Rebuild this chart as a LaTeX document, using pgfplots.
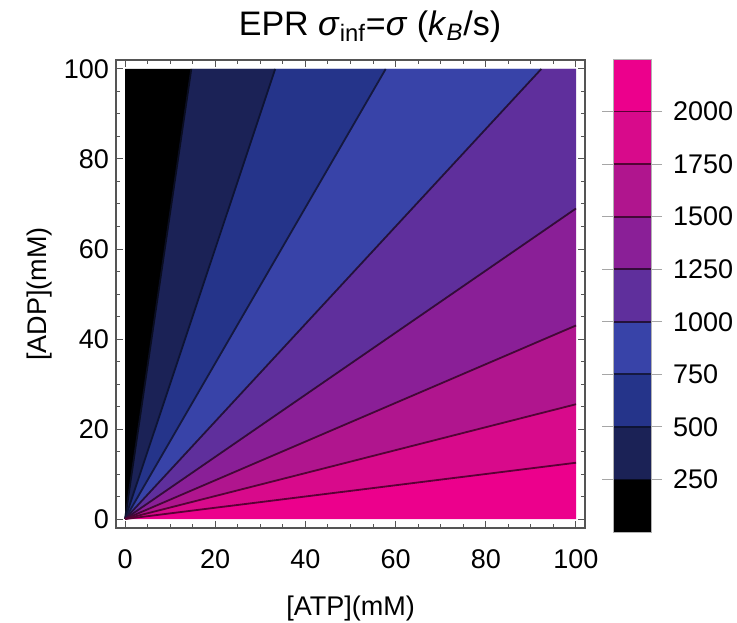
\documentclass[border=0pt]{standalone}
\usepackage{fontspec}
\setmainfont{Liberation Sans}
\usepackage{pgfplots}
\pgfplotsset{compat=1.18}

% band colours, lowest to highest EPR
\definecolor{c0}{HTML}{000000}
\definecolor{c1}{HTML}{1B2256}
\definecolor{c2}{HTML}{25348A}
\definecolor{c3}{HTML}{3843A8}
\definecolor{c4}{HTML}{5F2F9C}
\definecolor{c5}{HTML}{8A1F97}
\definecolor{c6}{HTML}{B0158E}
\definecolor{c7}{HTML}{D80A8B}
\definecolor{c8}{HTML}{EC008C}
\definecolor{framegray}{HTML}{555555}

\pgfplotsset{
 band/.style={fill=#1,draw=#1,line width=0.2bp},
 cline/.style={draw=#1!38!black,line width=0.9bp},
}

\begin{document}
\begin{tikzpicture}
% page = 737x623 px at 0.5bp per px, frame corner at px (116,528)
\path[use as bounding box] (-58bp,-47.5bp) rectangle (310.5bp,264bp);
\begin{axis}[at={(0,0)},anchor=south west,
 width=234.5bp,height=234bp,scale only axis,
 xmin=-2,xmax=102,ymin=-2,ymax=102,
 axis on top,
 xtick={0,20,...,100},ytick={0,20,...,100},minor tick num=3,
 major tick length=3.5bp,minor tick length=2bp,
 axis line style={framegray,line width=0.6bp},
 tick style={framegray,line width=0.5bp},
 /pgf/number format/assume math mode=true,
 ticklabel style={font=\fontsize{13.5bp}{16bp}\selectfont},
 xticklabel style={yshift=-7.5bp},
 label style={font=\fontsize{13.5bp}{16bp}\selectfont},
 xlabel={[ATP](mM)},ylabel={[ADP](mM)},
 xlabel style={yshift=-6.5bp},ylabel style={yshift=-1bp},
]
% filled contour bands (boundaries are rays from the origin)
\addplot[band=c0] coordinates {(0,0) (0,100) (14.7,100)};
\addplot[band=c1] coordinates {(0,0) (14.7,100) (33.3,100)};
\addplot[band=c2] coordinates {(0,0) (33.3,100) (57.8,100)};
\addplot[band=c3] coordinates {(0,0) (57.8,100) (92.3,100)};
\addplot[band=c4] coordinates {(0,0) (92.3,100) (100,100) (100,69)};
\addplot[band=c5] coordinates {(0,0) (100,69) (100,43)};
\addplot[band=c6] coordinates {(0,0) (100,43) (100,25.5)};
\addplot[band=c7] coordinates {(0,0) (100,25.5) (100,12.5)};
\addplot[band=c8] coordinates {(0,0) (100,12.5) (100,0)};
% contour lines
\addplot[cline=c1] coordinates {(0,0) (14.7,100)};
\addplot[cline=c2] coordinates {(0,0) (33.3,100)};
\addplot[cline=c3] coordinates {(0,0) (57.8,100)};
\addplot[cline=c4] coordinates {(0,0) (92.3,100)};
\addplot[cline=c5] coordinates {(0,0) (100,69)};
\addplot[cline=c6] coordinates {(0,0) (100,43)};
\addplot[cline=c7] coordinates {(0,0) (100,25.5)};
\addplot[cline=c8] coordinates {(0,0) (100,12.5)};
\end{axis}

% colour bar
\begin{axis}[at={(248.5bp,-2bp)},anchor=south west,
 width=19bp,height=236.5bp,scale only axis,
 xmin=0,xmax=1,ymin=0,ymax=2250,
 axis on top,
 xtick=\empty,ytick={250,500,...,2000},
 yticklabel pos=right,tick align=outside,
 major tick length=5.5bp,
 axis line style={black!30,line width=0.4bp},
 tick style={black!35,line width=0.5bp},
 /pgf/number format/assume math mode=true,
 /pgf/number format/1000 sep={},
 yticklabel style={font=\fontsize{13.5bp}{16bp}\selectfont,anchor=west,xshift=2bp},
]
\addplot[band=c0] coordinates {(0,0) (1,0) (1,250) (0,250)};
\addplot[band=c1] coordinates {(0,250) (1,250) (1,500) (0,500)};
\addplot[band=c2] coordinates {(0,500) (1,500) (1,750) (0,750)};
\addplot[band=c3] coordinates {(0,750) (1,750) (1,1000) (0,1000)};
\addplot[band=c4] coordinates {(0,1000) (1,1000) (1,1250) (0,1250)};
\addplot[band=c5] coordinates {(0,1250) (1,1250) (1,1500) (0,1500)};
\addplot[band=c6] coordinates {(0,1500) (1,1500) (1,1750) (0,1750)};
\addplot[band=c7] coordinates {(0,1750) (1,1750) (1,2000) (0,2000)};
\addplot[band=c8] coordinates {(0,2000) (1,2000) (1,2250) (0,2250)};
\addplot[cline=c1] coordinates {(0,250) (1,250)};
\addplot[cline=c2] coordinates {(0,500) (1,500)};
\addplot[cline=c3] coordinates {(0,750) (1,750)};
\addplot[cline=c4] coordinates {(0,1000) (1,1000)};
\addplot[cline=c5] coordinates {(0,1250) (1,1250)};
\addplot[cline=c6] coordinates {(0,1500) (1,1500)};
\addplot[cline=c7] coordinates {(0,1750) (1,1750)};
\addplot[cline=c8] coordinates {(0,2000) (1,2000)};
\end{axis}

\node[font=\fontsize{17bp}{20bp}\selectfont] at (127bp,250.5bp)
 {EPR \textit{σ}\textsubscript{inf}=\textit{σ} (\textit{k}\textsubscript{\textit{B}}/s)};
\end{tikzpicture}
\end{document}
